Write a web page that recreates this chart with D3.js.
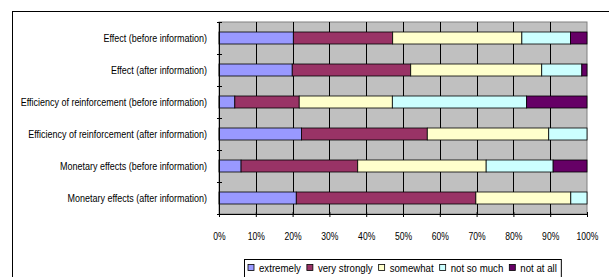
<!DOCTYPE html>
<html>
<head>
<meta charset="utf-8">
<script src="https://cdn.jsdelivr.net/npm/d3@7"></script>
<style>
  html, body { margin: 0; padding: 0; background: #fff; }
  svg { display: block; }
  text { font-family: "Liberation Sans", Arial, sans-serif; fill: #000; }
</style>
</head>
<body>
<svg id="chart" width="609" height="277"></svg>
<script>
const categories = [
  "Effect (before information)",
  "Effect (after information)",
  "Efficiency of reinforcement (before information)",
  "Efficiency of reinforcement (after information)",
  "Monetary effects (before information)",
  "Monetary effects (after information)"
];
const seriesNames = ["extremely", "very strongly", "somewhat", "not so much", "not at all"];
const extremely    = [20.2, 19.9,  4.3, 22.4,  6.0, 21.0];
const veryStrongly = [27.0, 32.2, 17.5, 34.2, 31.7, 48.8];
const somewhat     = [35.1, 35.6, 25.3, 33.0, 34.9, 25.8];
const notSoMuch    = [13.2, 10.9, 36.5, 10.4, 18.2,  4.4];
const notAtAll     = [ 4.5,  1.4, 16.4,  0.0,  9.2,  0.0];
const tickValues = [0, 10, 20, 30, 40, 50, 60, 70, 80, 90, 100];
const tickLabels = ["0%", "10%", "20%", "30%", "40%", "50%", "60%", "70%", "80%", "90%", "100%"];
const colors = ["#9999FF", "#993366", "#FFFFCC", "#CCFFFF", "#660066"];

const seriesValues = [extremely, veryStrongly, somewhat, notSoMuch, notAtAll];
const rows = categories.map((c, i) => {
  const o = { category: c };
  const total = d3.sum(seriesValues, s => s[i]);
  seriesNames.forEach((n, k) => { o[n] = seriesValues[k][i] / total * 100; });
  return o;
});

// condense text horizontally to mimic the narrow original font
function condense(sel, factor) {
  sel.each(function() {
    const w = this.getComputedTextLength();
    d3.select(this).attr("textLength", w * factor).attr("lengthAdjust", "spacingAndGlyphs");
  });
}

const svg = d3.select("#chart");

// chart area border
svg.append("rect")
  .attr("x", 12.5).attr("y", 11.5)
  .attr("width", 640).attr("height", 320)
  .attr("fill", "#fff").attr("stroke", "#000").attr("stroke-width", 1);

const plot = { left: 219, right: 587, top: 22, bottom: 214 };

const x = d3.scaleLinear().domain([0, 100]).range([plot.left, plot.right]);
const y = d3.scaleBand().domain(categories)
  .range([plot.top, plot.bottom])
  .paddingInner(0.625).paddingOuter(0.3125);

// plot background
svg.append("rect")
  .attr("x", plot.left).attr("y", plot.top)
  .attr("width", plot.right - plot.left).attr("height", plot.bottom - plot.top)
  .attr("fill", "#C0C0C0").attr("stroke", "#808080").attr("stroke-width", 1);

// vertical gridlines
svg.append("g").selectAll("line")
  .data(tickValues.slice(1, -1))
  .join("line")
  .attr("x1", d => Math.round(x(d)) + 0.5).attr("x2", d => Math.round(x(d)) + 0.5)
  .attr("y1", plot.top).attr("y2", plot.bottom)
  .attr("stroke", "#000").attr("stroke-width", 1);

// bars
const stack = d3.stack().keys(seriesNames);
const stacked = stack(rows);
svg.append("g").selectAll("g")
  .data(stacked)
  .join("g")
  .attr("fill", (d, i) => colors[i])
  .selectAll("rect")
  .data(d => d.filter(p => p[1] - p[0] > 0.001))
  .join("rect")
  .attr("x", d => x(d[0]))
  .attr("y", d => y(d.data.category))
  .attr("width", d => x(d[1]) - x(d[0]))
  .attr("height", y.bandwidth())
  .attr("stroke", "#000").attr("stroke-width", 0.8);

// bottom axis
const xAxis = d3.axisBottom(x)
  .tickValues(tickValues)
  .tickFormat((d, i) => tickLabels[i])
  .tickSize(3).tickPadding(15);
const gx = svg.append("g")
  .attr("transform", `translate(0,${plot.bottom})`)
  .call(xAxis);
gx.select(".domain").attr("stroke", "#000").attr("d", `M${plot.left},0.5H${plot.right}`);
gx.selectAll(".tick line").attr("stroke", "#000").attr("y1", -2).attr("y2", 3);
gx.selectAll(".tick text")
  .attr("font-size", 11)
  .style("font-family", '"Liberation Sans", Arial, sans-serif')
  .call(condense, 0.78);

// left axis
const boundaries = d3.range(categories.length + 1).map(i => plot.top + i * y.step());
const yAxis = d3.axisLeft(y).tickSize(0).tickPadding(12);
const gy = svg.append("g")
  .attr("transform", `translate(${plot.left},0)`)
  .call(yAxis);
gy.select(".domain").attr("stroke", "#000").attr("d", `M0.5,${plot.top}V${plot.bottom}`);
gy.selectAll(".tick text")
  .attr("font-size", 11.5)
  .style("font-family", '"Liberation Sans", Arial, sans-serif')
  .call(condense, 0.78);
gy.append("g").selectAll("line")
  .data(boundaries)
  .join("line")
  .attr("x1", -2).attr("x2", 3)
  .attr("y1", d => Math.round(d) + 0.5).attr("y2", d => Math.round(d) + 0.5)
  .attr("stroke", "#000");

// legend
const legendY = 259;
const legendBox = svg.append("rect")
  .attr("fill", "#fff").attr("stroke", "#000");
const legend = svg.append("g");
let cx = 0;
const items = legend.selectAll("g")
  .data(seriesNames)
  .join("g");
items.append("rect")
  .attr("width", 6).attr("height", 6)
  .attr("y", 5.5)
  .attr("fill", (d, i) => colors[i])
  .attr("stroke", "#000").attr("stroke-width", 0.8);
items.append("text")
  .attr("x", 11).attr("y", 13)
  .attr("font-size", 11.5)
  .text(d => d)
  .call(condense, 0.84);
items.each(function() {
  const g = d3.select(this);
  g.attr("transform", `translate(${cx},0)`);
  cx += 11 + +g.select("text").attr("textLength") + 6;
});
const legendW = cx - 6 + 8;
const legendX = Math.round(402.5 - legendW / 2);
legend.attr("transform", `translate(${legendX + 4},${legendY})`);
legendBox
  .attr("x", legendX + 0.5).attr("y", legendY + 0.5)
  .attr("width", legendW).attr("height", 22);
</script>
</body>
</html>
